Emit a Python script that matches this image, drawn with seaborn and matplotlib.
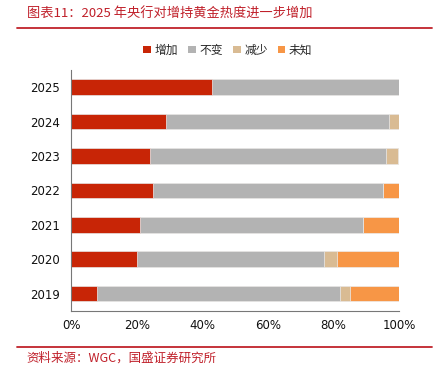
import numpy as np
import pandas as pd
import seaborn as sns
import matplotlib.pyplot as plt
from matplotlib.patches import Patch
from matplotlib.lines import Line2D
from matplotlib.ticker import PercentFormatter

years = ['2025', '2024', '2023', '2022', '2021', '2020', '2019']
increase = [43, 29, 24, 25, 21, 20, 8]
unchanged = [57, 68, 72, 70, 68, 57, 74]
decrease = [0, 3, 3.5, 0, 0, 4, 3]
unknown = [0, 0, 0, 5, 11, 19, 15]

labels = ['增加', '不变', '减少', '未知']
colors = ['#C82506', '#B3B3B3', '#D9BB93', '#F79646']

sns.set_style('white')
plt.rcParams['font.family'] = ['DejaVu Sans', 'Noto Sans CJK SC']
cjk = ['Noto Sans CJK SC', 'DejaVu Sans']

df = pd.DataFrame({'year': years, '增加': increase, '不变': unchanged,
                   '减少': decrease, '未知': unknown})
# cumulative sums, drawn longest first so shorter bars sit on top
cum = df[labels].cumsum(axis=1) / 100
cum['year'] = df['year']

fig = plt.figure(figsize=(4.47, 3.74), dpi=100)
ax = fig.add_axes([0.159, 0.169, 0.734, 0.644])

for lab, col in reversed(list(zip(labels, colors))):
    sns.barplot(data=cum, x=lab, y='year', order=years, color=col,
                width=0.45, errorbar=None, ax=ax, saturation=1,
                edgecolor='#ececec', linewidth=0.5)

ax.set_xlabel('')
ax.set_ylabel('')
ax.set_xlim(0, 1)
ax.set_ylim(6.5, -0.5)
ax.xaxis.set_major_formatter(PercentFormatter(1.0, decimals=0))
ax.set_xticks(np.linspace(0, 1, 6))

ax.set_yticks(np.arange(-0.5, 7, 1))
ax.set_yticklabels([])
ax.set_yticks(np.arange(7), minor=True)
ax.set_yticklabels(years, minor=True)
ax.tick_params(axis='y', which='major', direction='out', length=3,
               color='#666666', width=0.8)
ax.tick_params(axis='y', which='minor', length=0, pad=8, labelsize=8.5,
               labelcolor='#111111')
ax.tick_params(axis='x', direction='in', length=3, color='#666666',
               width=0.8, labelsize=8.5, labelcolor='#111111', pad=6)

for s in ['top', 'right']:
    ax.spines[s].set_visible(False)
for s in ['left', 'bottom']:
    ax.spines[s].set_color('#777777')
    ax.spines[s].set_linewidth(0.8)

handles = [Patch(facecolor=c, edgecolor='none') for c in colors]
fig.legend(handles, labels, loc='center', bbox_to_anchor=(0.51, 0.866),
           ncol=4, frameon=False, handlelength=0.65, handleheight=0.65,
           columnspacing=0.85, handletextpad=0.3,
           prop={'family': cjk, 'size': 8.5})

fig.text(0.06, 0.963, '图表11：2025 年央行对增持黄金热度进一步增加',
         color='#C0202A', fontsize=9.5, va='center', family=cjk,
         style='italic')
fig.add_artist(Line2D([17 / 447, 432 / 447], [0.925, 0.925],
                      color='#C0232B', lw=1.3))
fig.add_artist(Line2D([17 / 447, 432 / 447], [0.072, 0.072],
                      color='#C0232B', lw=1.3))
fig.text(0.06, 0.043, '资料来源：WGC，国盛证券研究所', color='#C0202A',
         fontsize=9, va='center', family=cjk, style='italic')

fig.savefig('out.png', dpi=100)
